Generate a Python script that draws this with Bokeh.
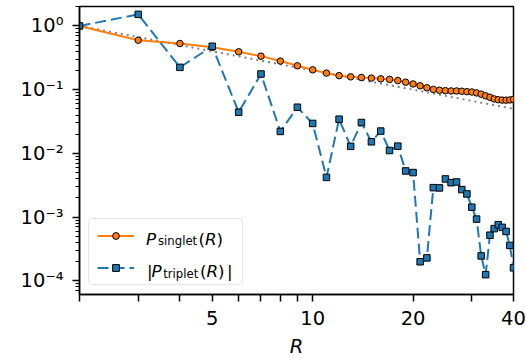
from bokeh.plotting import figure
from bokeh.models import (Range1d, FixedTicker, CustomJSTickFormatter, Legend,
                          LegendItem, Label)
from bokeh.embed import file_html
from bokeh.resources import INLINE

# ---- data ----
R = [2, 3, 4, 5, 6, 7, 8, 9, 10, 11, 12, 13, 14, 15, 16, 17, 18, 19, 20, 21,
     22, 23, 24, 25, 26, 27, 28, 29, 30, 31, 32, 33, 34, 35, 36, 37, 38, 39, 40]

p_singlet = [1.0, 0.598, 0.53, 0.465, 0.393, 0.336, 0.281, 0.237, 0.205, 0.182,
             0.166, 0.159, 0.155, 0.152, 0.148, 0.145, 0.139, 0.131, 0.123, 0.115,
             0.107, 0.101, 0.098, 0.0965, 0.0955, 0.0955, 0.0945, 0.093, 0.092, 0.089,
             0.085, 0.080, 0.076, 0.0716, 0.0695, 0.0686, 0.0685, 0.069, 0.0705]

p_triplet_abs = [1.0, 1.52, 0.224, 0.48, 0.0443, 0.176, 0.0221, 0.053, 0.0295, 0.0042,
                 0.0344, 0.0129, 0.0305, 0.0152, 0.0224, 0.0111, 0.0130, 0.0053, 0.0050, 1.99e-4,
                 2.29e-4, 2.9e-3, 2.87e-3, 3.97e-3, 3.47e-3, 3.56e-3, 2.7e-3, 2.31e-3, 1.43e-3, 9.3e-4,
                 2.46e-4, 1.25e-4, 5.2e-4, 6.6e-4, 7.6e-4, 6.9e-4, 5.96e-4, 3.6e-4, 1.6e-4]

reference = [1.0, 0.667, 0.5, 0.4, 0.333, 0.286, 0.25, 0.222, 0.2, 0.182,
             0.167, 0.154, 0.143, 0.133, 0.125, 0.118, 0.111, 0.105, 0.1, 0.0952,
             0.0909, 0.087, 0.0833, 0.08, 0.0769, 0.0741, 0.0714, 0.069, 0.0667, 0.0645,
             0.0625, 0.0606, 0.0588, 0.0571, 0.0556, 0.0541, 0.0526, 0.0513, 0.05]

x_ticks = [2, 3, 4, 5, 6, 7, 8, 9, 10, 20, 30, 40]
x_tick_labels = [5, 10, 20, 40]
y_ticks = [1e-4, 1e-3, 1e-2, 1e-1, 1.0]

ORANGE = "#ff7f0e"
BLUE = "#1f77b4"
FONT = "DejaVu Sans"

p = figure(width=526, height=360, x_axis_type="log", y_axis_type="log",
           x_range=Range1d(2, 40), y_range=Range1d(6.1e-5, 2.02),
           output_backend="svg", toolbar_location=None,
           min_border_left=79, min_border_right=13, min_border_top=6,
           min_border_bottom=65)

p.xgrid.visible = False
p.ygrid.visible = False
p.outline_line_color = "black"
p.outline_line_width = 1.5
p.background_fill_color = "white"
p.border_fill_color = "white"

# x axis
xa = p.xaxis[0]
xa.ticker = FixedTicker(ticks=x_ticks, minor_ticks=[])
xa.formatter = CustomJSTickFormatter(
    args=dict(lab=x_tick_labels),
    code="return lab.includes(Math.round(tick)) ? String(Math.round(tick)) : '';")
xa.axis_label = "R"
xa.axis_label_text_font = FONT
xa.axis_label_text_font_style = "italic"
xa.axis_label_text_font_size = "19.5px"
xa.axis_label_text_color = "black"
xa.axis_label_standoff = 7

# y axis
minor = []
for e in range(-5, 1):
    for k in range(2, 10):
        minor.append(k * 10.0 ** e)
ya = p.yaxis[0]
ya.ticker = FixedTicker(ticks=y_ticks, minor_ticks=minor)
ya.formatter = CustomJSTickFormatter(code="""
const sup = {'-':'\u207b','0':'\u2070','1':'\u00b9','2':'\u00b2','3':'\u00b3',
             '4':'\u2074','5':'\u2075','6':'\u2076','7':'\u2077','8':'\u2078','9':'\u2079'};
const e = Math.round(Math.log10(tick));
return '10' + String(e).split('').map(c => sup[c]).join('');
""")

for ax in (xa, ya):
    ax.axis_line_color = "black"
    ax.axis_line_width = 1.5
    ax.major_tick_line_color = "black"
    ax.major_tick_line_width = 1.5
    ax.minor_tick_line_color = "black"
    ax.minor_tick_line_width = 1.2
    ax.major_tick_in = 0
    ax.major_tick_out = 7
    ax.minor_tick_in = 0
    ax.minor_tick_out = 4
    ax.major_label_text_font = FONT
    ax.major_label_text_font_size = "19.5px"
    ax.major_label_text_color = "black"
xa.minor_tick_line_color = None
xa.major_label_standoff = 9
ya.major_label_standoff = 9

# data
p.line(R, reference, line_color="gray", line_width=2, line_dash="2 4")
l1 = p.line(R, p_singlet, line_color=ORANGE, line_width=2)
s1 = p.scatter(R, p_singlet, marker="circle", size=6.5, fill_color=ORANGE,
               line_color="black", line_width=1)
l2 = p.line(R, p_triplet_abs, line_color=BLUE, line_width=2, line_dash="11 5")
s2 = p.scatter(R, p_triplet_abs, marker="square", size=6.5, fill_color=BLUE,
               line_color="black", line_width=1)

legend = Legend(items=[LegendItem(label=" ", renderers=[l1, s1]),
                       LegendItem(label=" ", renderers=[l2, s2])],
                location="bottom_left", margin=9, padding=8, spacing=15,
                glyph_width=37, glyph_height=17, label_height=17,
                label_width=88, label_standoff=12,
                label_text_font_size="2px",
                border_line_color="#cccccc", border_line_width=1.5,
                border_radius=4,
                background_fill_color="white", background_fill_alpha=0.0)
p.add_layout(legend)

# legend texts placed in screen units, relative to the plot frame
def txt(x, y, t, size, style="normal"):
    p.add_layout(Label(x=x, y=y, x_units="screen", y_units="screen", text=t,
                       text_font=FONT, text_font_size=size, text_font_style=style,
                       text_align="left", text_baseline="alphabetic",
                       text_color="black", level="overlay"))

BIG, SMALL = "16.7px", "11.7px"
txt(66.5, 56, "P", BIG, "italic")
txt(78.5, 53.3, "singlet", SMALL)
txt(119, 56, "(", BIG)
txt(125.5, 56, "R", BIG, "italic")
txt(137, 56, ")", BIG)

txt(67.5, 23.3, "|", BIG)
txt(72, 23.3, "P", BIG, "italic")
txt(83.7, 20.6, "triplet", SMALL)
txt(120.5, 23.3, "(", BIG)
txt(127, 23.3, "R", BIG, "italic")
txt(138.6, 23.3, ")", BIG)
txt(147.5, 23.3, "|", BIG)

open("out.html", "w").write(file_html(p, INLINE))
